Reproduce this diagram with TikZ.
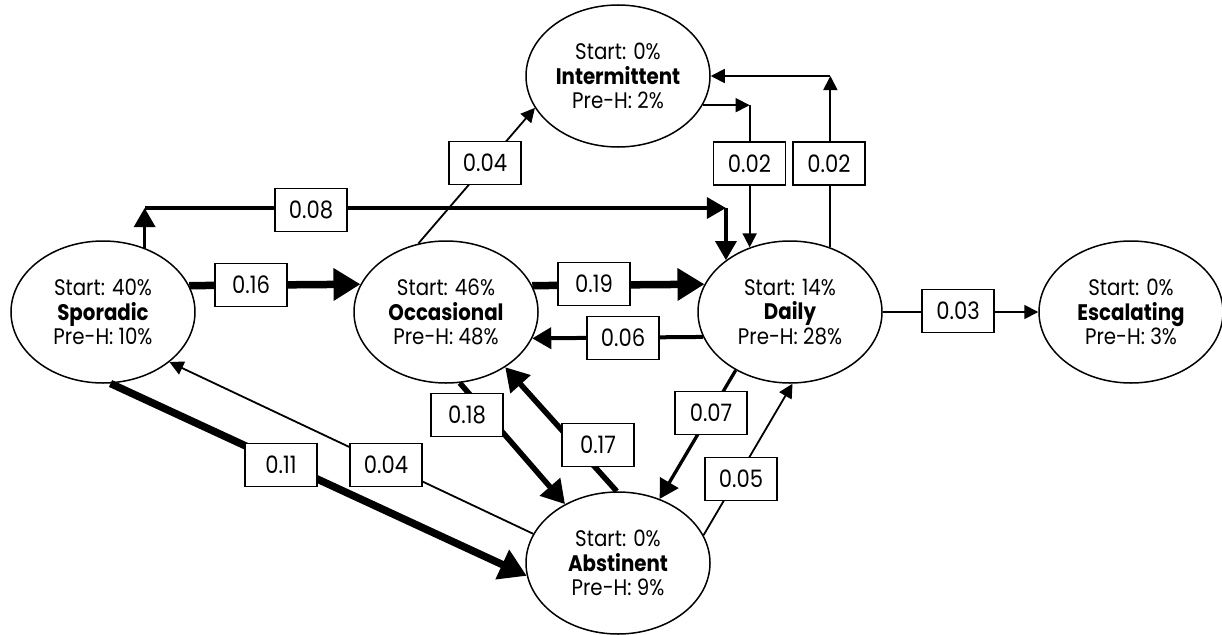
\documentclass[tikz,border=0pt]{standalone}
\usepackage{fontspec}
\setmainfont{Poppins}[FakeStretch=0.88]
\usetikzlibrary{arrows.meta, shapes.geometric}

\begin{document}
\begin{tikzpicture}[x=1pt, y=-1pt,
    state/.style={ellipse,draw,line width=1.5pt,minimum width=184pt,minimum height=142pt,
        inner sep=0pt,align=center,font=\fontsize{22.5}{24.5}\selectfont},
    prob/.style={draw,fill=white,line width=1.5pt,minimum width=72pt,minimum height=43pt,
        inner sep=0pt,font=\fontsize{24}{26}\selectfont},
    Arr/.style={-{Triangle[length=14pt,width=14pt]},line width=1.8pt},
    ArrM/.style={-{Triangle[length=19pt,width=21pt]},line width=3.3pt},
    ArrL/.style={-{Triangle[length=23pt,width=26pt]},line width=5.5pt},
    ArrX/.style={-{Triangle[length=27pt,width=31pt]},line width=7.5pt},
                        ]
    \useasboundingbox (0,0) rectangle (1222,634);

    % states
    \node[state] (inter_node)     at (618,76)  {Start: 0\%\\\textbf{Intermittent}\\Pre-H: 2\%};
    \node[state] (sporadic_node)  at (103,312) {Start: 40\%\\\textbf{Sporadic}\\Pre-H: 10\%};
    \node[state] (occ_node)       at (446,312) {Start: 46\%\\\textbf{Occasional}\\Pre-H: 48\%};
    \node[state] (daily_node)     at (790,312) {Start: 14\%\\\textbf{Daily}\\Pre-H: 28\%};
    \node[state] (esc_node)       at (1131,312) {Start: 0\%\\\textbf{Escalating}\\Pre-H: 3\%};
    \node[state] (abst_node)      at (618,563) {Start: 0\%\\\textbf{Abstinent}\\Pre-H: 9\%};

    % corners of the elbow connectors
    \coordinate (c_sd1) at (sporadic_node.57 |- 0,208);
    \coordinate (c_sd2) at (daily_node.141 |- c_sd1);
    \coordinate (c_id)  at (inter_node.341.7 -| daily_node.122.8);
    \coordinate (c_di)  at (daily_node.58 |- inter_node.east);

    % transitions
    \draw[ArrX] (sporadic_node.17.6) -- (occ_node.162.4);
    \draw[ArrX] (occ_node.17.6) -- (daily_node.162.4);
    \draw[ArrM, line width=4pt] (daily_node.196.9) -- (occ_node.343.1);
    \draw[Arr] (daily_node.east) -- (esc_node.west);
    \draw[Arr] (occ_node.112.8) -- (inter_node.201);
    \draw[ArrX] (sporadic_node.276) -- (abst_node.188.5);
    \draw[Arr] (abst_node.161.8) -- (sporadic_node.323.5);
    \draw[ArrL] (occ_node.281) -- (abst_node.132.4);
    \draw[ArrL] (abst_node.91) -- (occ_node.317.4);
    \draw[ArrM] (daily_node.227) -- (abst_node.57.1);
    \draw[Arr] (abst_node.18.2) -- (daily_node.272);

    \draw[ArrM] (sporadic_node.57) -- (c_sd1);
    \draw[ArrM] (c_sd1) -- (c_sd2);
    \draw[ArrM] (c_sd2) -- (daily_node.141);
    \draw[Arr] (inter_node.341.7) -- (c_id);
    \draw[Arr] (c_id) -- (daily_node.122.8);
    \draw[Arr] (daily_node.58) -- (c_di);
    \draw[Arr] (c_di) -- (inter_node.east);

    % probabilities
    \node[prob] (p_sd)  at (311,210)   {0.08};
    \node[prob] (p_so)  at (251,285)   {0.16};
    \node[prob] (p_od)  at (594,284)   {0.19};
    \node[prob] (p_do)  at (623,338)   {0.06};
    \node[prob] (p_de)  at (958,311)   {0.03};
    \node[prob] (p_oi)  at (485,163)   {0.04};
    \node[prob] (p_id)  at (749.5,163.5) {0.02};
    \node[prob] (p_di)  at (829,163.5) {0.02};
    \node[prob] (p_sa)  at (281,465)   {0.11};
    \node[prob] (p_as)  at (386,465)   {0.04};
    \node[prob] (p_oa)  at (467,415)   {0.18};
    \node[prob] (p_ao)  at (598,445)   {0.17};
    \node[prob] (p_da)  at (711,413)   {0.07};
    \node[prob] (p_ad)  at (741,479)   {0.05};

    \end{tikzpicture}
\end{document}
